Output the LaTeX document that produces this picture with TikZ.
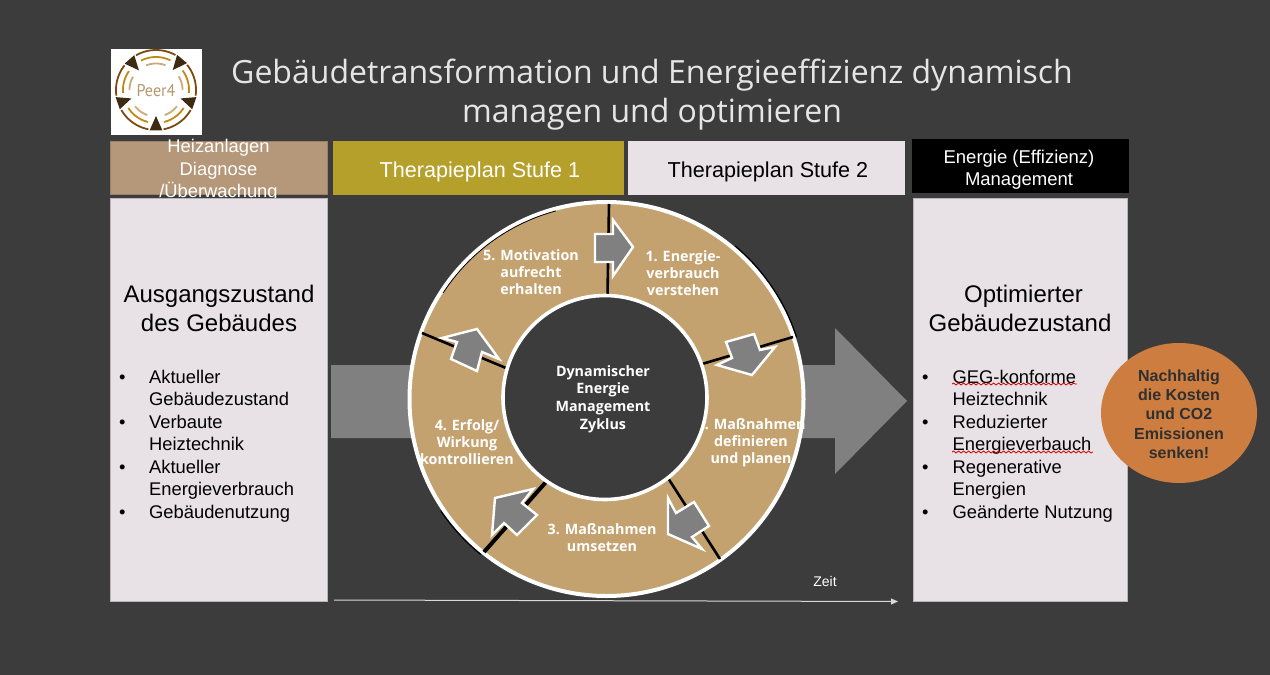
\documentclass[tikz,border=0pt]{standalone}
\usepackage{fontspec}
\setmainfont{Liberation Sans}
\newfontfamily\opensans{Open Sans}
\newfontfamily\ptsans{PT Sans}
\usetikzlibrary{decorations.pathmorphing,arrows.meta}
\definecolor{bgc}{HTML}{3C3C3C}
\definecolor{panelc}{HTML}{E8E2E6}
\definecolor{tanc}{HTML}{C4A26F}
\definecolor{headtan}{HTML}{B59779}
\definecolor{olivec}{HTML}{B5A02B}
\definecolor{greyc}{HTML}{808080}
\definecolor{orangec}{HTML}{CD7D40}
\definecolor{logoa}{HTML}{7A4A10}
\definecolor{logob}{HTML}{C08A18}
\definecolor{logoc}{HTML}{CBAA7C}
\definecolor{logod}{HTML}{3E2A10}
\tikzset{
  x=1pt,y=-1pt,
  headbox/.style={draw=#1!85!black,line width=0.8pt,fill=#1,inner sep=0pt},
  panel/.style={fill=panelc,draw=panelc!80!black,line width=0.5pt},
  sep/.style={draw=black,line width=#1},
  ringarrow/.style={fill=greyc,draw=white,line width=2.4pt,miter limit=6},
  ringtext/.style={font=\opensans\bfseries\fontsize{14.3}{17}\selectfont,text=white,align=center,inner sep=0pt},
  listtext/.style={font=\fontsize{18.35}{22.5}\selectfont,text=black,align=left,anchor=north west,inner sep=0pt},
  headtext/.style={align=center,inner sep=0pt},
  wavy/.style={draw=red!85!black,line width=0.8pt,decorate,decoration={snake,amplitude=1pt,segment length=5pt}}
}
\begin{document}
\begin{tikzpicture}
\useasboundingbox[fill=bgc] (0,0) rectangle (1270,675);
% logo
\fill[white] (111,49) rectangle (202,135);
\node[font=\ptsans\fontsize{17}{17}\selectfont,text=logoc!90!black,inner sep=0pt] (logotext) at (156,90.5) {\scalebox{0.95}[1]{Peer4}};
\foreach \a/\b in {50/131,131/199,199/270,270/341,341/410}{
  \foreach \r/\g/\c in {40/11/logoa,33/14/logob,26.5/19/logoc}{
    \draw[\c,line width=1.8pt,domain={\a+\g}:{\b-\g},samples=16,variable=\t]
      plot ({156+\r*cos(\t)},{90-\r*sin(\t)});
  }
}
\foreach \a in {50,131,199,270,341}{
  \fill[logod] ({156+26*cos(\a)},{90-26*sin(\a)})
    -- ({156+41*cos(\a+9)},{90-41*sin(\a+9)})
    -- ({156+41*cos(\a-9)},{90-41*sin(\a-9)}) -- cycle;
}
% title
\node[font=\opensans\fontsize{32}{38.3}\selectfont,text=white!90!black,align=center,inner sep=0pt] (title) at (652,94.5)
  {Gebäudetransformation und Energieeffizienz dynamisch\\managen und optimieren};
% header boxes
\draw[headbox=headtan] (110,141) rectangle (327.5,194);
\node[headtext,text=white,font=\fontsize{18.35}{22.5}\selectfont] (h1) at (218.5,170.5) {Heizanlagen\\Diagnose\\/Überwachung};
\fill[olivec] (333,141) rectangle (624,195);
\node[headtext,text=white,font=\fontsize{21.6}{25}\selectfont] (h2) at (480,171.5) {Therapieplan Stufe 1};
\fill[panelc] (628,141) rectangle (905,195);
\node[headtext,text=black,font=\fontsize{21.6}{25}\selectfont] (h3) at (768,171.5) {Therapieplan Stufe 2};
\fill[black] (912,139) rectangle (1129,193);
\node[headtext,text=white,font=\fontsize{18.5}{22.5}\selectfont] (h4) at (1019,169.5) {Energie (Effizienz)\\Management};
% panels
\draw[panel] (110,198) rectangle (327.5,601);
\draw[panel] (913,198) rectangle (1127.5,601);
\node[headtext,text=black,font=\fontsize{24}{29}\selectfont] (pl) at (219,308) {Ausgangszustand\\des Gebäudes};
\node[headtext,text=black,font=\fontsize{24}{29}\selectfont] (pr) at (1020,308) {\hspace*{7pt}Optimierter\\Gebäudezustand};
\node[listtext] (ll) at (119,369.5) {\makebox[30pt][l]{•}Aktueller\\\hspace*{30pt}Gebäudezustand\\\makebox[30pt][l]{•}Verbaute\\\hspace*{30pt}Heiztechnik\\\makebox[30pt][l]{•}Aktueller\\\hspace*{30pt}Energieverbrauch\\\makebox[30pt][l]{•}Gebäudenutzung};
\node[listtext] (lr) at (922,369.5) {\makebox[30.5pt][l]{•}GEG-konforme\\\hspace*{30.5pt}Heiztechnik\\\makebox[30.5pt][l]{•}Reduzierter\\\hspace*{30.5pt}Energieverbauch\\\makebox[30.5pt][l]{•}Regenerative\\\hspace*{30.5pt}Energien\\\makebox[30.5pt][l]{•}Geänderte Nutzung};
\coordinate (w1a) at (952,384); \coordinate (w1b) at (1077,384);
\coordinate (w2a) at (952,452); \coordinate (w2b) at (1093,452);
\draw[wavy] (w1a) -- (w1b);
\draw[wavy] (w2a) -- (w2b);
% big arrow
\fill[greyc] (331,365) -- (835,365) -- (835,328) -- (907,401) -- (835,474) -- (835,438) -- (331,438) -- cycle;
% ring: black edges
\foreach \f/\g in {18/50,214/231}{
  \draw[black,line width=2pt,domain=\f:\g,samples=30,variable=\t]
    plot ({606.5+199.5*cos(\t)},{399-199.5*sin(\t)});
}
\fill[tanc,draw=white,line width=4pt] (606.5,399) circle[radius=197];
\draw[black,line width=0.8pt,domain=105:147,samples=30,variable=\t]
    plot ({606.5+194.8*cos(\t)},{399-194.8*sin(\t)});
% separators
\coordinate (s1a) at (609,204); \coordinate (s1b) at (607.5,296);
\coordinate (s2a) at (793,337); \coordinate (s2b) at (702,364);
\coordinate (s3a) at (720,559); \coordinate (s3b) at (668,478);
\coordinate (s4a) at (484,552); \coordinate (s4b) at (546,482);
\coordinate (s5a) at (422,333); \coordinate (s5b) at (506,368);
\draw[sep=2.6pt] (s1a) -- (s1b);
\draw[sep=2.6pt] (s2a) -- (s2b);
\draw[sep=2.6pt] (s3a) -- (s3b);
\draw[sep=4pt] (s4a) -- (s4b);
\draw[sep=2.6pt] (s5a) -- (s5b);
% ring labels
\node[ringtext] (t1) at (683,273) {1. Energie-\\verbrauch\\verstehen};
\node[ringtext] (t2) at (751,443) {2. Maßnahmen\\definieren\\und planen};
\node[ringtext] (t3) at (602,537.5) {3. Maßnahmen\\umsetzen};
\node[ringtext] (t4) at (467,442) {4. Erfolg/\\Wirkung\\kontrollieren};
\node[ringtext] (t5) at (531,272.5) {5. Motivation\\aufrecht\\erhalten};
% inner circle
\fill[bgc,draw=white,line width=3.6pt] (605,397.5) circle[radius=102];
\node[ringtext,font=\opensans\bfseries\fontsize{14.3}{17.7}\selectfont] (tc) at (603,399) {Dynamischer\\Energie\\Management\\Zyklus};
% ring arrows
\draw[ringarrow] (595,234) -- (613,234) -- (613,220) -- (633,247) -- (613,276) -- (613,262) -- (595,262) -- cycle;
\draw[ringarrow] (726,342) -- (754,334) -- (760,350) -- (775,347) -- (752,375) -- (717,365) -- (732,358) -- cycle;
\draw[ringarrow] (668,498) -- (676,513) -- (694,502) -- (709,526) -- (692,537) -- (702,549) -- (668,534) -- cycle;
\draw[ringarrow] (495,498) -- (533,489) -- (522,503) -- (537,515) -- (517,535) -- (504,523) -- (492,535) -- cycle;
\draw[ringarrow] (442,338) -- (477,329) -- (499,359) -- (482,352) -- (477,371) -- (451,359) -- (457,342) -- cycle;
% time axis
\coordinate (z0) at (334,600); \coordinate (z1) at (898,601.5);
\draw[white!85!black,line width=1pt,-{Triangle[length=7pt,width=6pt]}] (z0) -- (z1);
\node[text=white,font=\fontsize{14}{16}\selectfont,inner sep=0pt] (zeit) at (825,581) {Zeit};
% ellipse
\fill[orangec] (1179,413) ellipse[x radius=78,y radius=70];
\node[font=\bfseries\fontsize{16}{19.3}\selectfont,text=bgc!80!black,align=center,inner sep=0pt] (ov) at (1179,414) {Nachhaltig\\die Kosten\\und CO2\\Emissionen\\senken!};
\end{tikzpicture}
\end{document}
